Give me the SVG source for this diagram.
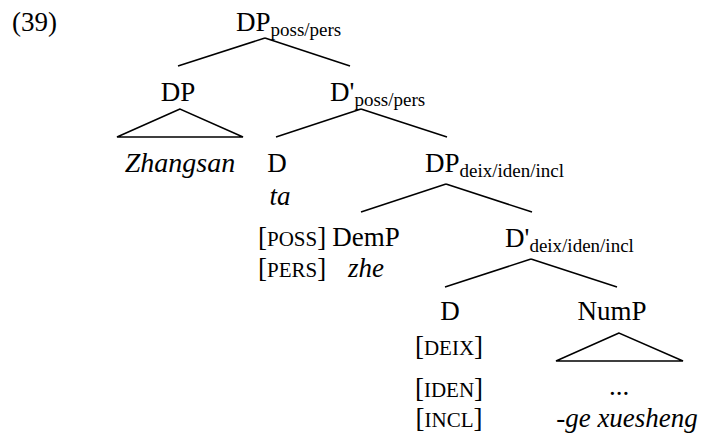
<svg xmlns="http://www.w3.org/2000/svg" width="702" height="436" viewBox="0 0 702 436">
<rect width="702" height="436" fill="#fff"/>
<text x="12" y="31" font-family="Liberation Serif" font-size="27">(39)</text>
<g id="connectors" stroke="#000" stroke-width="1.5" fill="none">
<line x1="265" y1="38" x2="178" y2="66"/>
<line x1="265" y1="38" x2="350" y2="66"/>
<polygon points="180,109 117,137 243,137"/>
<line x1="361" y1="109" x2="276" y2="137"/>
<line x1="361" y1="109" x2="447" y2="137"/>
<line x1="446" y1="184" x2="361" y2="212"/>
<line x1="446" y1="184" x2="532" y2="212"/>
<line x1="531" y1="259" x2="445" y2="287"/>
<line x1="531" y1="259" x2="617" y2="287"/>
<polygon points="619,333 556,361 683,361"/>
</g>
<g id="n-root"><text x="236" y="31" font-family="Liberation Serif" font-size="27">DP<tspan font-size="19" dy="5">poss/pers</tspan></text></g>
<g id="n-dp"><text x="178" y="101" font-family="Liberation Serif" font-size="27" text-anchor="middle">DP</text></g>
<g id="n-zhangsan"><text x="180" y="172" font-family="Liberation Serif" font-size="28" font-style="italic" text-anchor="middle">Zhangsan</text></g>
<g id="n-dbar1"><text x="330" y="101" font-family="Liberation Serif" font-size="27">D'<tspan font-size="19" dy="5">poss/pers</tspan></text></g>
<g id="n-d1"><text x="277" y="172" font-family="Liberation Serif" font-size="27" text-anchor="middle">D</text><text x="280" y="205" font-family="Liberation Serif" font-size="27" font-style="italic" text-anchor="middle">ta</text></g>
<g id="n-poss"><text x="258" y="246" font-family="Liberation Serif" font-size="27">[<tspan font-size="21">POSS</tspan>]</text><text x="258" y="277" font-family="Liberation Serif" font-size="27">[<tspan font-size="21">PERS</tspan>]</text></g>
<g id="n-dp2"><text x="425" y="172" font-family="Liberation Serif" font-size="27">DP<tspan font-size="19" dy="5">deix/iden/incl</tspan></text></g>
<g id="n-demp"><text x="366" y="246" font-family="Liberation Serif" font-size="27" text-anchor="middle">DemP</text><text x="366" y="277" font-family="Liberation Serif" font-size="27" font-style="italic" text-anchor="middle">zhe</text></g>
<g id="n-dbar2"><text x="505" y="247" font-family="Liberation Serif" font-size="27">D'<tspan font-size="19" dy="5">deix/iden/incl</tspan></text></g>
<g id="n-d2"><text x="450" y="320" font-family="Liberation Serif" font-size="27" text-anchor="middle">D</text><text x="449" y="355" font-family="Liberation Serif" font-size="27" text-anchor="middle">[<tspan font-size="21">DEIX</tspan>]</text><text x="449" y="397" font-family="Liberation Serif" font-size="27" text-anchor="middle">[<tspan font-size="21">IDEN</tspan>]</text><text x="449" y="427" font-family="Liberation Serif" font-size="27" text-anchor="middle">[<tspan font-size="21">INCL</tspan>]</text></g>
<g id="n-nump"><text x="612" y="320" font-family="Liberation Serif" font-size="27" text-anchor="middle">NumP</text><text x="619" y="395" font-family="Liberation Serif" font-size="27" text-anchor="middle">...</text><text x="627" y="427" font-family="Liberation Serif" font-size="27" font-style="italic" text-anchor="middle">-ge xuesheng</text></g>
</svg>
